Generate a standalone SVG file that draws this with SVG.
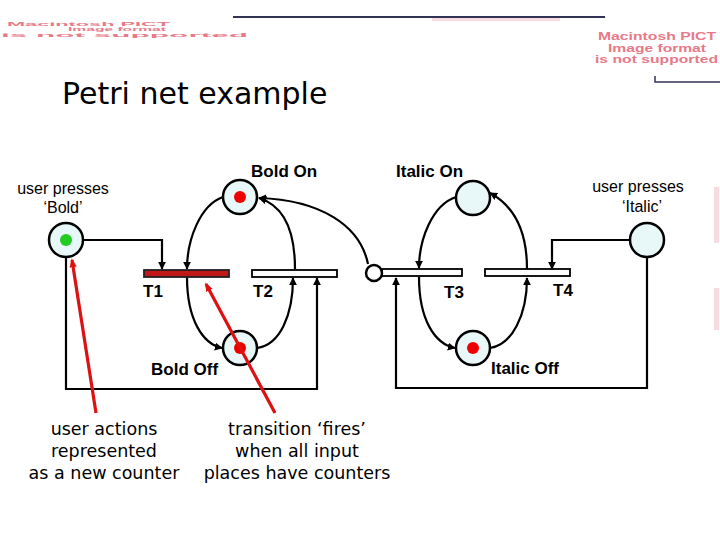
<svg xmlns="http://www.w3.org/2000/svg" width="720" height="540" viewBox="0 0 720 540">
<defs>
<style>
.place{fill:#e8f7f8;stroke:#000;stroke-width:2.5}
.inh{fill:#fff;stroke:#000;stroke-width:2.5}
.trans{fill:#fff;stroke:#000;stroke-width:1.8}
.fired{fill:#c01818;stroke:#222;stroke-width:1.8}
.tok{fill:#ee0000}
.tokg{fill:#22cc22}
.arc{fill:none;stroke:#000;stroke-width:2.2;marker-end:url(#ah)}
.red{fill:none;stroke:#dd1111;stroke-width:3.2}
.lbl{font-family:"Liberation Sans",Arial,sans-serif;font-weight:bold;font-size:17px;fill:#000}
.usr{font-family:"Liberation Sans",Arial,sans-serif;font-size:16px;fill:#000;text-anchor:middle}
.note{font-family:"DejaVu Sans",Verdana,sans-serif;font-size:17.5px;fill:#000;text-anchor:middle}
.pict{font-family:"Liberation Sans",Arial,sans-serif;font-weight:bold;fill:#e67a88}
</style>
<marker id="ah" viewBox="0 0 10 10" refX="9" refY="5" markerWidth="8" markerHeight="8" markerUnits="userSpaceOnUse" orient="auto">
<path d="M0,0 L10,5 L0,10 z" fill="#000"/>
</marker>
<marker id="rh" viewBox="0 0 10 10" refX="8" refY="5" markerWidth="9" markerHeight="9" markerUnits="userSpaceOnUse" orient="auto">
<path d="M0,1 L10,5 L0,9 z" fill="#dd1111"/>
</marker>
</defs>

<!-- decorative background fragments -->
<g id="decor">
<line x1="233" y1="17" x2="605" y2="17" stroke="#333355" stroke-width="2"/>
<rect x="432" y="18" width="128" height="3" fill="#f2c4cc" opacity="0.6"/>
<polyline points="655,76 655,82 720,82" fill="none" stroke="#333355" stroke-width="1.5"/>
<text class="pict" x="7" y="26" font-size="5.5" textLength="163" lengthAdjust="spacingAndGlyphs">Macintosh PICT</text>
<text class="pict" x="68" y="31" font-size="5.5" textLength="98" lengthAdjust="spacingAndGlyphs">Image format</text>
<text class="pict" x="1" y="36.5" font-size="5.5" textLength="247" lengthAdjust="spacingAndGlyphs">is not supported</text>
<g class="pict" font-size="11.5">
<text x="598" y="40" textLength="118" lengthAdjust="spacingAndGlyphs">Macintosh PICT</text>
<text x="608" y="51.5" textLength="98" lengthAdjust="spacingAndGlyphs">Image format</text>
<text x="595" y="63" textLength="123" lengthAdjust="spacingAndGlyphs">is not supported</text>
</g>
<rect x="714" y="187" width="5" height="56" fill="#f0b8c0" opacity="0.5"/>
<rect x="714" y="288" width="5" height="42" fill="#f0b8c0" opacity="0.5"/>
</g>

<text x="62" y="104" font-family="'DejaVu Sans',sans-serif" font-size="30" fill="#000">Petri net example</text>

<!-- connectors -->
<g id="connectors">
<polyline class="arc" points="83,240 162,240 162,269"/>
<polyline class="arc" points="66,257 66,389 317,389 317,278"/>
<path class="arc" d="M223,197 C200,205 187,240 187,269"/>
<path class="arc" d="M187,277 C187,320 203,344 222,348"/>
<path class="arc" d="M257,348 C280,345 293,315 293,278"/>
<path class="arc" d="M295,269 C295,232 285,206 259,198"/>
<path class="arc" d="M368,264 C360,225 320,200 259,198"/>
<polyline class="arc" points="630,240 552,240 552,269"/>
<polyline class="arc" points="647,257 647,388 396,388 396,278"/>
<path class="arc" d="M456,197 C432,205 419,240 419,268"/>
<path class="arc" d="M419,277 C419,320 435,344 455,348"/>
<path class="arc" d="M490,348 C512,345 527,315 527,278"/>
<path class="arc" d="M527,269 C527,235 516,207 490,193"/>
</g>

<!-- places -->
<g id="p-bold-on"><circle class="place" cx="240" cy="197" r="17"/><circle class="tok" cx="240" cy="197" r="6"/></g>
<g id="p-user-bold"><circle class="place" cx="66" cy="240" r="17"/><circle class="tokg" cx="66" cy="240" r="6"/></g>
<g id="p-bold-off"><circle class="place" cx="240" cy="348" r="17"/><circle class="tok" cx="240" cy="348" r="6"/></g>
<g id="p-italic-on"><circle class="place" cx="473" cy="198" r="17"/></g>
<g id="p-italic-off"><circle class="place" cx="473" cy="348" r="17"/><circle class="tok" cx="473" cy="348" r="6"/></g>
<g id="p-user-italic"><circle class="place" cx="647" cy="240" r="17"/></g>

<!-- transitions -->
<g id="t1"><rect class="fired" x="144" y="270" width="85" height="7"/></g>
<g id="t2"><rect class="trans" x="252" y="270" width="85" height="7"/></g>
<g id="t3"><rect class="trans" x="382" y="269" width="80" height="7"/><circle class="inh" cx="374" cy="273" r="8"/></g>
<g id="t4"><rect class="trans" x="485" y="269" width="85" height="7"/></g>

<!-- labels -->
<g id="labels">
<text class="lbl" x="251" y="177">Bold On</text>
<text class="lbl" x="396" y="177">Italic On</text>
<text class="lbl" x="151" y="375">Bold Off</text>
<text class="lbl" x="491" y="374">Italic Off</text>
<text class="lbl" x="143" y="297">T1</text>
<text class="lbl" x="253" y="297">T2</text>
<text class="lbl" x="444" y="298">T3</text>
<text class="lbl" x="553" y="296">T4</text>
<text class="usr" x="63" y="194">user presses</text>
<text class="usr" x="63" y="213">‘Bold’</text>
<text class="usr" x="638" y="192">user presses</text>
<text class="usr" x="642" y="212">‘Italic’</text>
</g>

<!-- annotations -->
<g id="annotations">
<line class="red" x1="96" y1="413" x2="72" y2="260" marker-end="url(#rh)"/>
<line class="red" x1="275" y1="413" x2="206" y2="284" marker-end="url(#rh)"/>
<text class="note" x="104" y="435">user actions</text>
<text class="note" x="104" y="457">represented</text>
<text class="note" x="104" y="479">as a new counter</text>
<text class="note" x="297" y="435">transition ‘fires’</text>
<text class="note" x="297" y="457">when all input</text>
<text class="note" x="297" y="479">places have counters</text>
</g>
</svg>
